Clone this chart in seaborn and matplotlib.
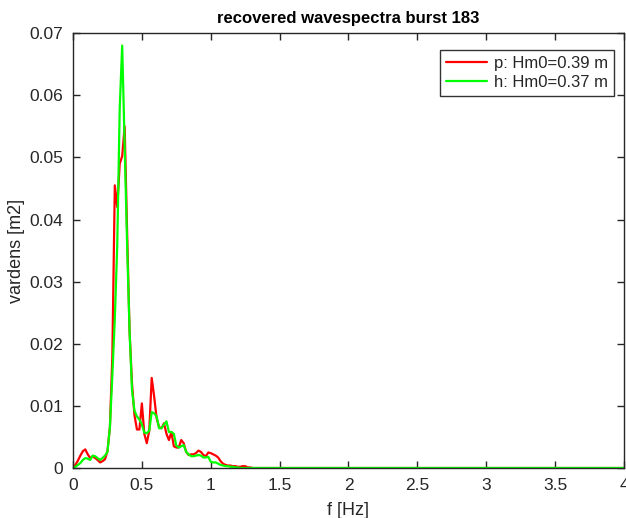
import numpy as np
import pandas as pd
import matplotlib
matplotlib.use("Agg")
import matplotlib.pyplot as plt
import seaborn as sns

# frequency grid (Hz), df = 1/56
freq_step = 1 / 56
n_points = 76

red_vals = [0, 0.0005, 0.0012, 0.0020, 0.0027, 0.0030, 0.0022, 0.0016, 0.0019, 0.0016,
            0.0013, 0.0009, 0.0011, 0.0014, 0.0027, 0.0065, 0.0180, 0.0455, 0.0420, 0.0490,
            0.0502, 0.0550, 0.0380, 0.0220, 0.0135, 0.0085, 0.0062, 0.0062, 0.0104, 0.0055,
            0.0040, 0.0060, 0.0145, 0.0115, 0.0080, 0.0066, 0.0064, 0.0072, 0.0055, 0.0045,
            0.0058, 0.0035, 0.0033, 0.0033, 0.0045, 0.0040, 0.0026, 0.0021, 0.0022, 0.0022,
            0.0024, 0.0028, 0.0026, 0.0021, 0.0019, 0.0025, 0.0024, 0.0022, 0.0020, 0.0017,
            0.0011, 0.0007, 0.0005, 0.0004, 0.0004, 0.0003, 0.0003, 0.0002, 0.0002, 0.0003,
            0.0003, 0.0001, 0.0001, 0, 0, 0]
green_vals = [0, 0.0002, 0.0005, 0.0008, 0.0013, 0.0016, 0.0015, 0.0013, 0.0020, 0.0019,
              0.0016, 0.0013, 0.0016, 0.0020, 0.0026, 0.0065, 0.0150, 0.0240, 0.0360, 0.0580,
              0.0680, 0.0520, 0.0360, 0.0220, 0.0125, 0.0092, 0.0083, 0.0078, 0.0070, 0.0057,
              0.0056, 0.0060, 0.0090, 0.0088, 0.0083, 0.0064, 0.0064, 0.0070, 0.0075, 0.0058,
              0.0058, 0.0055, 0.0036, 0.0033, 0.0035, 0.0037, 0.0026, 0.0022, 0.0019, 0.0019,
              0.0020, 0.0021, 0.0020, 0.0017, 0.0017, 0.0018, 0.0010, 0.0009, 0.0009, 0.0007,
              0.0005, 0.0004, 0.0003, 0.0003, 0.0002, 0.0002, 0.0001, 0.0001, 0, 0,
              0, 0, 0, 0, 0, 0]
f_max = 4.0
labels = ["p: Hm0=0.39 m", "h: Hm0=0.37 m"]
x_ticks = [0, 0.5, 1, 1.5, 2, 2.5, 3, 3.5, 4]
x_ticklabels = ["0", "0.5", "1", "1.5", "2", "2.5", "3", "3.5", "4"]
y_ticks = [0, 0.01, 0.02, 0.03, 0.04, 0.05, 0.06, 0.07]
y_ticklabels = ["0", "0.01", "0.02", "0.03", "0.04", "0.05", "0.06", "0.07"]
title = "recovered wavespectra burst 183"

freq = list(np.arange(n_points) * freq_step) + [f_max]
df = pd.concat([
    pd.DataFrame({"f": freq, "v": red_vals + [0], "series": labels[0]}),
    pd.DataFrame({"f": freq, "v": green_vals + [0], "series": labels[1]}),
])

sns.set_style("white")
plt.rcParams["font.family"] = ["Liberation Sans", "DejaVu Sans"]

fig = plt.figure(figsize=(6.26, 5.18), dpi=100)
ax = fig.add_axes([0.1166, 0.0965, 0.8802, 0.8395])
sns.lineplot(data=df, x="f", y="v", hue="series", palette=["#FF0000", "#00FF00"],
             linewidth=1.6, ax=ax, sort=False, estimator=None)

ax.set_xlim(0, 4)
ax.set_ylim(0, 0.07)
ax.set_xticks(x_ticks)
ax.set_xticklabels(x_ticklabels)
ax.set_yticks(y_ticks)
ax.set_yticklabels(y_ticklabels)
ax.tick_params(direction="in", length=5, width=1.0, colors="#262626", labelsize=12.5,
               top=True, right=True, bottom=True, left=True, pad=7)
for s in ax.spines.values():
    s.set_visible(True)
    s.set_color("#262626")
    s.set_linewidth(1.0)
ax.set_xlabel("f [Hz]", fontsize=13, color="#262626", labelpad=7)
ax.set_ylabel("vardens [m2]", fontsize=13, color="#262626", labelpad=3)
ax.set_title(title, fontsize=12, fontweight="bold", color="black", pad=7)

leg = ax.legend(loc="upper right", bbox_to_anchor=(0.982, 0.961), borderaxespad=0,
                fontsize=12, frameon=True, fancybox=False, edgecolor="black",
                handlelength=2.5, borderpad=0.35, labelspacing=0.25, handletextpad=0.4)
leg.get_frame().set_linewidth(1.0)

fig.savefig("out.png", dpi=100, facecolor="white")
